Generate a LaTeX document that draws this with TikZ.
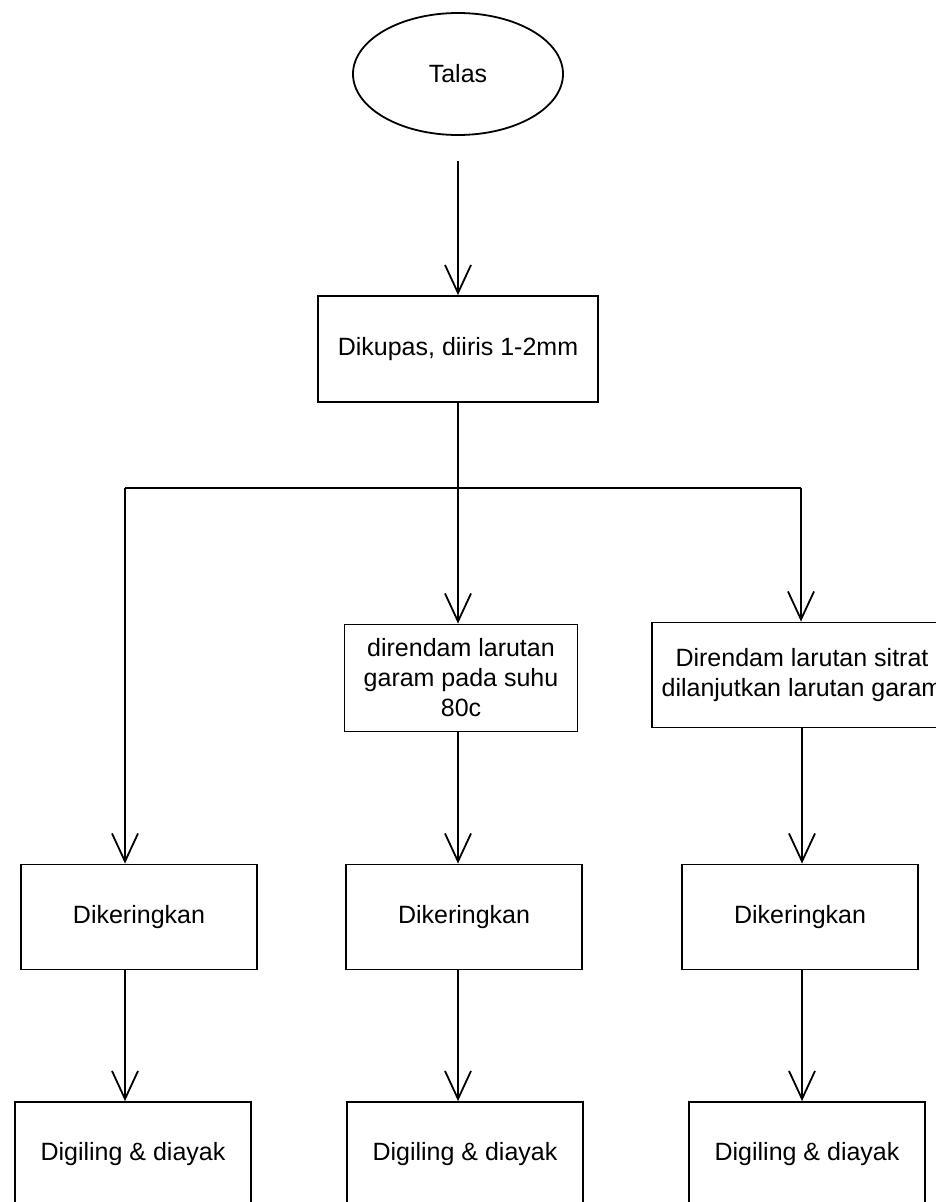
\documentclass[tikz,border=0pt]{standalone}
\usepackage{fontspec}
\setmainfont{Liberation Sans}
\usepackage{tikz}
\usetikzlibrary{shapes.geometric, arrows.meta}
\tikzset{
	stepbox/.style={draw, rectangle, align=center, inner sep=4pt},
	flow/.style={-{Straight Barb[length=28pt, width=26pt]}},
}

\begin{document}
\begin{tikzpicture}[x=1pt, y=-1pt, line width=1.8pt, font=\fontsize{25}{30}\selectfont]
	\useasboundingbox (0,0) rectangle (936,1202);
	
	\node[draw, ellipse, minimum width=210pt, minimum height=122pt] (talas) at (458,74) {Talas};
	\node[stepbox, minimum width=280pt, minimum height=106pt] (kupas) at (458,349) {Dikupas, diiris 1-2mm};
	
	\coordinate (cabangL) at (125,488);
	\coordinate (cabangM) at (458,488);
	\coordinate (cabangR) at (801,488);
	
	\node[stepbox, minimum width=233pt, minimum height=107pt] (rendamA) at (461,678) {direndam larutan\\garam pada suhu\\80c};
	\node[stepbox, minimum width=300pt, minimum height=105pt] (rendamB) at (802,675) {Direndam larutan sitrat\\dilanjutkan larutan garam};
	
	\foreach \n/\x in {1/139, 2/464, 3/800} {
		\node[stepbox, minimum width=236pt, minimum height=105pt] (kering\n) at (\x,917) {Dikeringkan};
	}
	\foreach \n/\x in {1/133, 2/465, 3/807} {
		\node[stepbox, minimum width=236pt, minimum height=104pt] (giling\n) at (\x,1154) {Digiling \& diayak};
	}
	
	\draw[flow, shorten <=25pt] (talas.south) -- (kupas.north);
	\draw (kupas.south) -- (cabangM);
	\draw (cabangL) -- (cabangR);
	\draw[flow] (cabangL) -- (cabangL |- kering1.north);
	\draw[flow] (cabangM) -- (cabangM |- rendamA.north);
	\draw[flow] (cabangR) -- (cabangR |- rendamB.north);
	\draw[flow] (rendamA.south -| cabangM) -- (cabangM |- kering2.north);
	\draw[flow] (rendamB.south) -- (rendamB.south |- kering3.north);
	\foreach \n/\c in {1/cabangL, 2/cabangM, 3/rendamB.south} {
		\draw[flow] (kering\n.south -| \c) -- (giling\n.north -| \c);
	}
\end{tikzpicture}
\end{document}
